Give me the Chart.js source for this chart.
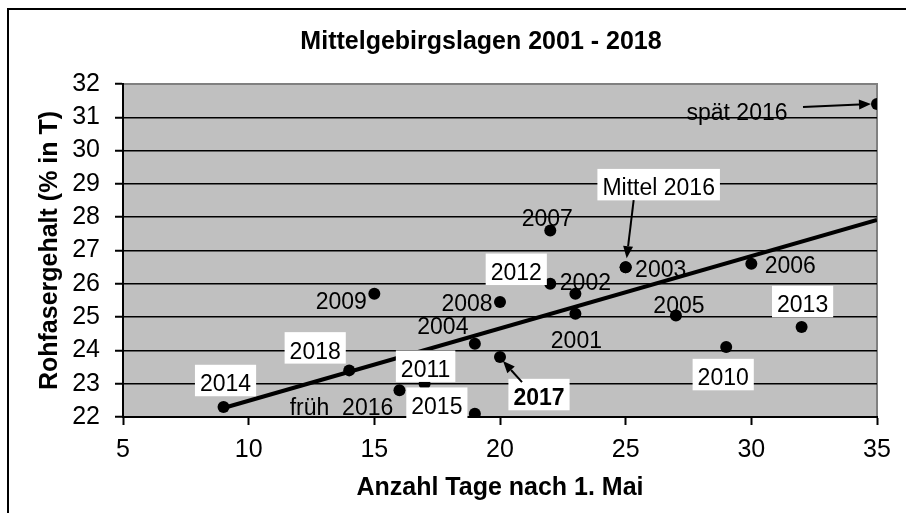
<!DOCTYPE html>
<html>
<head>
<meta charset="utf-8">
<script src="https://cdn.jsdelivr.net/npm/chart.js@4/dist/chart.umd.min.js"></script>
<style>
  html, body { margin: 0; padding: 0; background: #fff; }
  #wrap { position: relative; width: 906px; height: 513px; }
</style>
</head>
<body>
<div id="wrap"><canvas id="myChart" width="906" height="513"></canvas></div>
<script>
// Rohfasergehalt vs. Anzahl Tage nach 1. Mai
const years = ['2001', '2002', '2003', '2004', '2005', '2006', '2007', '2008', '2009', '2010',
  '2011', '2012', '2013', '2014', '2015', 'früh  2016', 'Mittel 2016', 'spät 2016', '2017', '2018']
const days = [23, 23, 25, 19, 27, 30, 22, 20, 15, 29, 17, 22, 32, 9, 19, 16, 25, 35, 20, 14]
const fibre = [25.1, 25.7, 26.5, 24.2, 25.05, 26.6, 27.6, 25.45, 25.7, 24.1,
  23.0, 26.0, 24.7, 22.3, 22.1, 22.8, 26.5, 31.4, 23.8, 23.4]

// trend line end points
const trendDays = [9, 35]
const trendFibre = [22.27, 27.92]

const xTicks = [5, 10, 15, 20, 25, 30, 35]
const yTicks = [22, 23, 24, 25, 26, 27, 28, 29, 30, 31, 32]

// label placement: offset of text centre from the point, white box, bold, arrow (from, to) offsets
const labelStyle = {
  '2001': { dx: 1, dy: 26 },
  '2002': { dx: 10, dy: -12 },
  '2003': { dx: 35, dy: 2 },
  '2004': { dx: -32, dy: -18 },
  '2005': { dx: 3, dy: -11 },
  '2006': { dx: 39, dy: 1 },
  '2007': { dx: -3, dy: -13 },
  '2008': { dx: -33, dy: 1 },
  '2009': { dx: -33, dy: 7 },
  '2010': { dx: -3, dy: 30, box: true },
  '2011': { dx: 1, dy: -15, box: true },
  '2012': { dx: -34, dy: -12, box: true },
  '2013': { dx: 1, dy: -23, box: true },
  '2014': { dx: 2, dy: -24, box: true },
  '2015': { dx: -38, dy: -8, box: true },
  'früh  2016': { dx: -58, dy: 16 },
  'Mittel 2016': { dx: 33, dy: -80, box: true, arrow: [8, -67, 1, -9] },
  'spät 2016': { dx: -140, dy: 8, arrow: [-74, 3, -6, 0] },
  '2017': { dx: 39, dy: 40, box: true, bold: true, arrow: [22, 25, 3, 4] },
  '2018': { dx: -34, dy: -20, box: true }
}

const FONT = 'Arial, "Liberation Sans", sans-serif'

function drawArrow (ctx, x1, y1, x2, y2) {
  const ang = Math.atan2(y2 - y1, x2 - x1)
  const len = 12
  const half = 5
  ctx.save()
  ctx.strokeStyle = '#000'
  ctx.fillStyle = '#000'
  ctx.lineWidth = 2
  ctx.beginPath()
  ctx.moveTo(x1, y1)
  ctx.lineTo(x2 - Math.cos(ang) * len, y2 - Math.sin(ang) * len)
  ctx.stroke()
  ctx.beginPath()
  ctx.moveTo(x2, y2)
  ctx.lineTo(x2 - Math.cos(ang) * len - Math.sin(ang) * half, y2 - Math.sin(ang) * len + Math.cos(ang) * half)
  ctx.lineTo(x2 - Math.cos(ang) * len + Math.sin(ang) * half, y2 - Math.sin(ang) * len - Math.cos(ang) * half)
  ctx.closePath()
  ctx.fill()
  ctx.restore()
}

const framePlugin = {
  id: 'frame',
  afterLayout (chart) {
    // title sits a little left of the plot centre
    chart.titleBlock.left = 85
    chart.titleBlock.right = 877
  },
  beforeDraw (chart) {
    const ctx = chart.ctx
    const a = chart.chartArea
    ctx.save()
    ctx.fillStyle = '#fff'
    ctx.fillRect(0, 0, chart.width, chart.height)
    ctx.strokeStyle = '#000'
    ctx.lineWidth = 2
    ctx.strokeRect(8, 9, 1200, 1200)
    ctx.fillStyle = '#c0c0c0'
    ctx.fillRect(a.left, a.top, a.right - a.left, a.bottom - a.top)
    ctx.strokeStyle = '#808080'
    ctx.lineWidth = 2
    ctx.beginPath()
    ctx.moveTo(a.left, a.top)
    ctx.lineTo(a.right, a.top)
    ctx.lineTo(a.right, a.bottom)
    ctx.stroke()
    ctx.restore()
  }
}

const labelPlugin = {
  id: 'yearLabels',
  afterDatasetsDraw (chart) {
    const ctx = chart.ctx
    const xs = chart.scales.x
    const ys = chart.scales.y
    ctx.save()
    years.forEach(function (label, i) {
      const st = labelStyle[label]
      const px = xs.getPixelForValue(days[i])
      const py = ys.getPixelForValue(fibre[i])
      const size = 23
      ctx.font = (st.bold ? 'bold ' : '') + size + 'px ' + FONT
      const w = ctx.measureText(label).width
      const cx = px + st.dx
      const cy = py + st.dy
      const cap = size * 0.716
      const base = cy + cap / 2
      if (st.box) {
        ctx.fillStyle = '#fff'
        ctx.fillRect(cx - w / 2 - 5, base - cap - 10, w + 10, cap + 15)
      }
      if (st.arrow) {
        drawArrow(ctx, px + st.arrow[0], py + st.arrow[1], px + st.arrow[2], py + st.arrow[3])
      }
      ctx.fillStyle = '#000'
      ctx.textAlign = 'center'
      ctx.textBaseline = 'alphabetic'
      ctx.fillText(label, cx, base)
    })
    ctx.restore()
  }
}

function createChart () {
  const ctx = document.getElementById('myChart').getContext('2d')
  // eslint-disable-next-line no-unused-vars
  const myChart = new Chart(ctx, {
    type: 'scatter',
    data: {
      datasets: [{
        label: 'Jahre',
        data: days.map(function (d, i) { return { x: d, y: fibre[i] } }),
        pointRadius: 6,
        pointBackgroundColor: '#000',
        pointBorderWidth: 0,
        order: 0
      }, {
        type: 'line',
        label: 'Trend',
        data: trendDays.map(function (d, i) { return { x: d, y: trendFibre[i] } }),
        borderColor: '#000',
        borderWidth: 4,
        pointRadius: 0,
        fill: false,
        order: 1
      }]
    },
    options: getChartOptions(),
    plugins: [framePlugin, labelPlugin]
  })
}

function getChartOptions () {
  return {
    responsive: false,
    animation: false,
    devicePixelRatio: 1,
    layout: { padding: { left: 0, right: 29, top: 0, bottom: 0 } },
    scales: {
      x: getXScale(),
      y: getYScale()
    },
    plugins: {
      legend: { display: false },
      tooltip: { enabled: false },
      title: {
        display: true,
        text: 'Mittelgebirgslagen 2001 - 2018',
        color: '#000',
        font: { family: FONT, size: 25, weight: 'bold', lineHeight: 1.2 },
        padding: { top: 27, bottom: 27 }
      }
    }
  }
}

function getXScale () {
  return {
    type: 'linear',
    min: 5,
    max: 35,
    afterFit: function (scale) { scale.height = 96 },
    afterBuildTicks: function (scale) { scale.ticks = xTicks.map(function (v) { return { value: v } }) },
    ticks: {
      color: '#000',
      font: { family: FONT, size: 25 },
      padding: 10,
      maxRotation: 0
    },
    grid: { drawOnChartArea: false, tickLength: 8, tickColor: '#000', tickWidth: 2 },
    border: { color: '#000', width: 2 },
    title: {
      display: true,
      text: 'Anzahl Tage nach 1. Mai',
      color: '#000',
      font: { family: FONT, size: 25, weight: 'bold', lineHeight: 1.2 },
      padding: { top: 0, bottom: 10 }
    }
  }
}

function getYScale () {
  return {
    type: 'linear',
    min: 22,
    max: 32,
    afterFit: function (scale) { scale.width = 123 },
    afterBuildTicks: function (scale) { scale.ticks = yTicks.map(function (v) { return { value: v } }) },
    ticks: {
      color: '#000',
      font: { family: FONT, size: 25 },
      padding: 15
    },
    grid: {
      color: function (c) { return c.tick && c.tick.value === 32 ? 'rgba(0,0,0,0)' : '#000' },
      lineWidth: 1.5,
      tickLength: 8,
      tickColor: '#000',
      tickWidth: 2
    },
    border: { color: '#000', width: 2 },
    title: {
      display: true,
      text: 'Rohfasergehalt (% in T)',
      color: '#000',
      font: { family: FONT, size: 25, weight: 'bold', lineHeight: 1.2 },
      padding: { top: 35, bottom: 0 }
    }
  }
}

createChart()
</script>
</body>
</html>
